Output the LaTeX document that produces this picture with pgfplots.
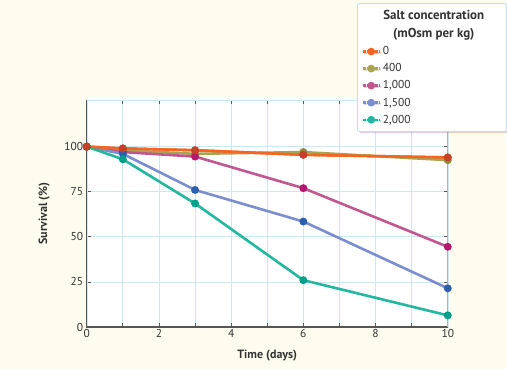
\documentclass[border=0pt]{standalone}
\usepackage{fontspec}
\setmainfont{PT Sans}
\usepackage{pgfplots}
\pgfplotsset{compat=1.18}
\usetikzlibrary{shadows}
\definecolor{bg}{HTML}{FDFCEE}
\definecolor{gridc}{HTML}{CBE8F6}
\definecolor{axc}{HTML}{555555}
\definecolor{txt}{HTML}{333333}
\definecolor{lA}{HTML}{F26522}\definecolor{mA}{HTML}{C8402A}
\definecolor{lB}{HTML}{A8A552}\definecolor{mB}{HTML}{8E8A3A}
\definecolor{lC}{HTML}{C2578F}\definecolor{mC}{HTML}{B3186E}
\definecolor{lD}{HTML}{7A8DCF}\definecolor{mD}{HTML}{2E5FAF}
\definecolor{lE}{HTML}{22B8A0}\definecolor{mE}{HTML}{00A08A}
\definecolor{legb}{HTML}{BFE0F0}
\newcommand\legtitle[1]{\hspace{-16pt}\makebox[134pt][c]{\bfseries\fontsize{13}{15}\selectfont #1}}
\begin{document}
\begin{tikzpicture}[x=1pt,y=1pt]
\fill[bg] (0,0) rectangle (507,370);
\begin{axis}[
  at={(87pt,42pt)}, anchor=south west,
  width=362pt, height=228pt, scale only axis,
  xmin=0, xmax=10, ymin=0, ymax=126,
  xtick={0,2,4,6,8,10}, minor x tick num=1,
  ytick={0,25,50,75,100},
  xmajorgrids, xminorgrids, ymajorgrids,
  grid style={gridc, line width=0.8pt},
  minor grid style={gridc, line width=0.8pt},
  axis background/.style={fill=white, drop shadow={opacity=0.25, shadow xshift=1.5pt, shadow yshift=-1pt}},
  axis line style={draw=gridc},
  tick align=inside, major tick length=4pt, minor tick length=4pt,
  tick style={axc, line width=0.8pt},
  ticklabel style={font=\fontsize{11.5}{13}\selectfont, text=txt},
  xticklabel style={yshift=1pt},
  /pgf/number format/assume math mode=true,
  xlabel={\textbf{Time (days)}},
  ylabel={\textbf{Survival (\%)}},
  label style={font=\fontsize{12}{14}\selectfont, text=txt},
  xlabel style={yshift=-5pt},
  ylabel style={yshift=8pt},
  clip=false,
  legend style={at={(rel axis cs:0.749,1.425)}, anchor=north west,
    fill=white, draw=legb, line width=0.8pt, rounded corners=2pt,
    drop shadow={opacity=0.3, shadow xshift=1.5pt, shadow yshift=-1.5pt},
    font=\fontsize{11.5}{13}\selectfont, text=txt,
    row sep=3.4pt, inner xsep=4pt, inner ysep=5pt},
  legend cell align=left,
  legend image post style={line width=2.4pt, dash pattern=on 3pt off 1pt, mark options={solid}},
  every axis plot/.append style={line width=2.6pt, mark=*, mark size=2.6pt},
]
\draw[axc, line width=1.4pt] (axis cs:0,126) -- (axis cs:0,0) -- (axis cs:10,0);
\draw[gray!60, line width=1pt] (axis cs:10,0) -- (axis cs:10,126);
\addlegendimage{empty legend}
\addlegendentry{\legtitle{Salt concentration}}
\addlegendimage{empty legend}
\addlegendentry{\legtitle{(mOsm per kg)}}
\addplot[lA, mark options={fill=mA, draw=mA}] coordinates {(0,100) (1,99) (3,98) (6,95.5) (10,94)};
\addlegendentry{0}
\addplot[lB, mark options={fill=mB, draw=mB}] coordinates {(0,100) (1,98) (3,96) (6,97) (10,92.5)};
\addlegendentry{400}
\addplot[lC, mark options={fill=mC, draw=mC}] coordinates {(0,100) (1,97) (3,94.5) (6,77) (10,44.5)};
\addlegendentry{1,000}
\addplot[lD, mark options={fill=mD, draw=mD}] coordinates {(0,100) (1,96) (3,76) (6,58.5) (10,21.5)};
\addlegendentry{1,500}
\addplot[lE, mark options={fill=mE, draw=mE}] coordinates {(0,100) (1,93) (3,68.5) (6,26) (10,6.5)};
\addlegendentry{2,000}
\addplot[lA, mark options={fill=mA, draw=mA}, forget plot] coordinates {(0,100) (1,99) (3,98) (6,95.5) (10,94)};
\end{axis}
\end{tikzpicture}
\end{document}
